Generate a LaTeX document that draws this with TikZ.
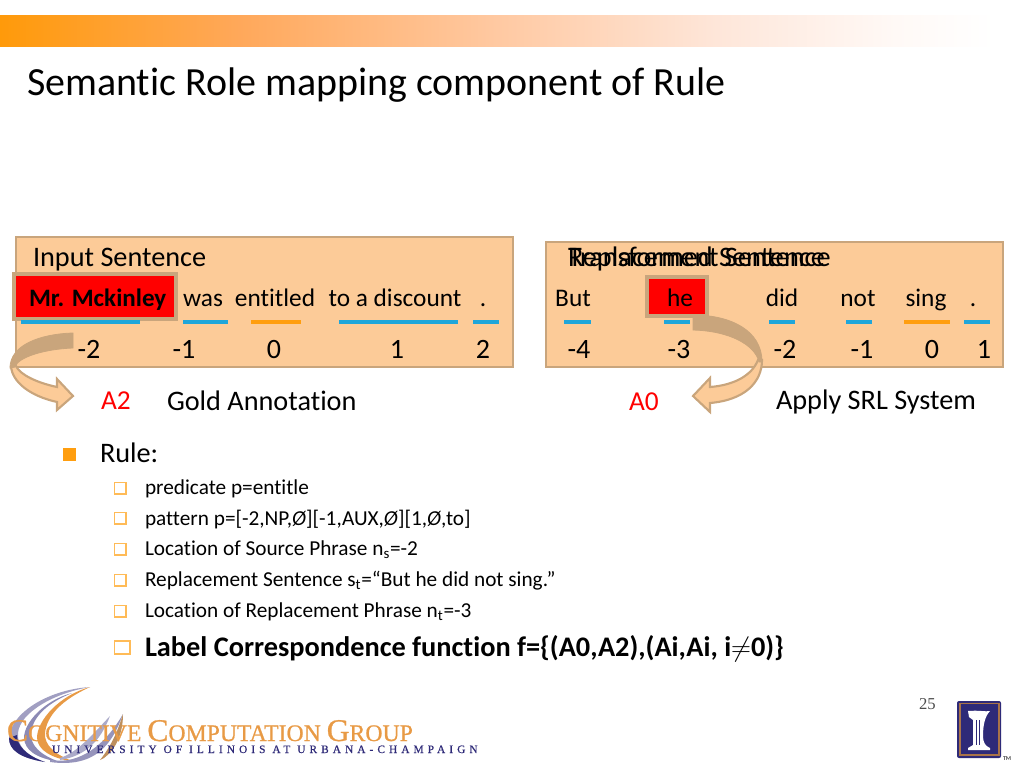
\documentclass[tikz,border=0pt]{standalone}
\usepackage{fontspec}
\setmainfont[Ligatures={NoCommon}]{Carlito}
\newfontfamily\logofont[FakeBold=0.8]{Liberation Serif}
\newfontfamily\logospaced[LetterSpace=36,FakeBold=0.5]{Liberation Serif}
\newfontfamily\pagefont{Liberation Serif}
\usetikzlibrary{shadings}
\definecolor{boxfill}{HTML}{FCCB98}
\definecolor{boxline}{HTML}{C9A57C}
\definecolor{uline}{HTML}{1FA6DA}
\definecolor{oline}{HTML}{FF9E0F}
\definecolor{navy}{HTML}{2E2A78}
\definecolor{logoorange}{HTML}{E89A45}
\definecolor{barA}{HTML}{FF9A0A}
\definecolor{barB}{HTML}{FFA85A}
\definecolor{barC}{HTML}{FFC9A2}
\definecolor{barD}{HTML}{FEE6D9}
\definecolor{barE}{HTML}{FFF9F6}
\pgfdeclarehorizontalshading{topbar}{100bp}{color(0bp)=(barA); color(25bp)=(barA); color(37bp)=(barB); color(50bp)=(barC); color(61bp)=(barD); color(70bp)=(barE); color(75bp)=(white); color(100bp)=(white)}
\newcommand{\fsz}[1]{\fontsize{#1}{#1}\selectfont}
\tikzset{
  x=0.75pt,y=-0.75pt,
  txt/.style={inner sep=0pt,outer sep=0pt,anchor=base west,text=black},
  ctr/.style={inner sep=0pt,outer sep=0pt,anchor=base,text=black},
  row/.style={ctr,font=\fsz{19}},
  num/.style={ctr,font=\fsz{21}},
  head/.style={txt,font=\fsz{21.2}},
  sub/.style={txt,font=\fsz{15.95}},
  bx/.style={fill=boxfill,draw=boxline,line width=2.2pt},
  redbox/.style={fill=red,draw=boxline,line width=2.4pt},
  bu/.style={line width=3pt,uline},
  ou/.style={line width=3pt,oline},
  hollow/.style={draw=oline!70!white,fill=white,line width=0.8pt},
  folddark/.style={fill=boxline,draw=boxline,line width=0.6pt},
  foldlight/.style={fill=boxfill,draw=boxline,line width=1.6pt,line join=miter},
  redlabel/.style={txt,text=red,font=\fsz{20.5}},
}
\begin{document}
\begin{tikzpicture}
\useasboundingbox (0,0) rectangle (1024,768);
% top bar and title
\shade[shading=topbar] (0,15) rectangle (995,46);
\node[txt,font=\fsz{29.95}] (title) at (27,95) {Semantic Role mapping component of Rule};
% left panel
\draw[bx] (16,237) rectangle (513,367);
\node[head] (inputhead) at (33,266) {Input Sentence};
\draw[redbox] (14,274) rectangle (176,319);
\node[txt,font=\fsz{18.8}\bfseries] (w1) at (29,306) {Mr. Mckinley};
\node[row] (w2) at (203,306) {was};
\node[row] (w3) at (275,306) {entitled};
\node[row] (w4) at (395,306) {to a discount};
\node[row] (w5) at (483,306) {.};
\draw[bu] (21,322) -- (140,322);
\draw[bu] (183,322) -- (228,322);
\draw[ou] (251,322) -- (301,322);
\draw[bu] (339,322) -- (458,322);
\draw[bu] (473,322) -- (499,322);
\node[num] (n1) at (89,358) {-2};
\node[num] (n2) at (184,358) {-1};
\node[num] (n3) at (274,358) {0};
\node[num] (n4) at (397,358) {1};
\node[num] (n5) at (483,358) {2};
% left arrow
\draw[foldlight] (11,366) .. controls (12,382) and (30,396) .. (57,402) -- (57,410) -- (73,396) -- (57,379) -- (57,387) .. controls (38,383) and (20,375) .. (16,366) -- cycle;
\draw[folddark] (73,333) .. controls (40,334) and (10,345) .. (10,368) -- (15,367) .. controls (18,357) and (45,349) .. (73,348) -- cycle;
\node[redlabel] (a2) at (101,409) {A2};
\node[head] (gold) at (167,410) {Gold Annotation};
% right panel
\draw[bx] (546,242) rectangle (1003,367);
\node[head] (rh1) at (568,266) {Replacement Sentence};
\node[head] (rh2) at (568,266) {Transformed Sentence};
\draw[redbox] (647,277) rectangle (707,316);
\node[row] (r1) at (573,306) {But};
\node[row] (r2) at (680,306) {he};
\node[row] (r3) at (782,306) {did};
\node[row] (r4) at (858,306) {not};
\node[row] (r5) at (926,306) {sing};
\node[row] (r6) at (973,306) {.};
\draw[bu] (564,322) -- (591,322);
\draw[bu] (664,322) -- (690,322);
\draw[bu] (769,322) -- (795,322);
\draw[bu] (846,322) -- (872,322);
\draw[ou] (904,322) -- (950,322);
\draw[bu] (964,322) -- (990,322);
\node[num] (m1) at (579,358) {-4};
\node[num] (m2) at (679,358) {-3};
\node[num] (m3) at (785,358) {-2};
\node[num] (m4) at (862,358) {-1};
\node[num] (m5) at (932,358) {0};
\node[num] (m6) at (984,358) {1};
% right arrow
\draw[foldlight] (762,360) .. controls (762,382) and (745,400) .. (710,403) -- (710,412) -- (693,396) -- (710,378) -- (710,387) .. controls (735,385) and (752,375) .. (758,360) -- cycle;
\draw[folddark] (693,315) .. controls (730,315) and (762,330) .. (762,362) -- (759,362) .. controls (755,345) and (730,331) .. (693,330) -- cycle;
\node[redlabel] (a0) at (629,410) {A0};
\node[head] (srl) at (776,409) {Apply SRL System};
% rule list
\fill[oline] (63,448) rectangle (76,461);
\node[head] (rule) at (100,462) {Rule:};
\draw[hollow] (114.5,482.5) rectangle (126,494);
\node[sub] (b1) at (145,494) {predicate p=entitle};
\draw[hollow] (114.5,512.5) rectangle (126,524);
\node[sub] (b2) at (145,525) {pattern p=[-2,NP,\textit{Ø}][-1,AUX,\textit{Ø}][1,\textit{Ø},to]};
\draw[hollow] (114.5,543.5) rectangle (126,555);
\node[sub] (b3) at (145,555.5) {Location of Source Phrase n\textsubscript{s}=-2};
\draw[hollow] (114.5,574.5) rectangle (126,586);
\node[sub] (b4) at (145,586) {Replacement Sentence s\textsubscript{t}=“But he did not sing.”};
\draw[hollow] (114.5,605.5) rectangle (126,617);
\node[sub] (b5) at (145,617) {Location of Replacement Phrase n\textsubscript{t}=-3};
\draw[hollow,line width=1pt] (114.5,641) rectangle (130,654);
\node[txt,font=\fsz{21.25}\bfseries] (b6) at (145,656) {Label Correspondence function f=\{(A0,A2),(Ai,Ai, i$\neq$0)\}};
% page number
\node[txt,font=\pagefont\fsz{12.5},text=black!70] (page) at (919,709) {25};
% logo swooshes
\fill[navy!45!white] (90,687) .. controls (45,690) and (10,715) .. (9,738) .. controls (9,750) and (20,758) .. (45,762) .. controls (25,755) and (17,745) .. (18,733) .. controls (20,712) and (55,693) .. (90,687) -- cycle;
\fill[navy!55!white] (72,693) .. controls (45,700) and (24,722) .. (24,738) .. controls (25,750) and (35,758) .. (60,762) .. controls (40,755) and (30,745) .. (31,733) .. controls (33,715) and (50,702) .. (72,693) -- cycle;
\fill[logoorange] (90,687) .. controls (60,695) and (37,720) .. (37,738) .. controls (38,750) and (50,758) .. (75,762) .. controls (55,755) and (44,745) .. (45,733) .. controls (47,715) and (62,700) .. (90,687) -- cycle;
\fill[navy] (9,738) .. controls (9,750) and (20,758) .. (45,762) .. controls (25,755) and (17,745) .. (17,735) -- cycle;
\fill[navy!50!white] (50,760) .. controls (80,765) and (105,745) .. (123,714) .. controls (112,745) and (95,768) .. (50,762) -- cycle;
\fill[navy!40!white] (60,758) .. controls (78,752) and (92,735) .. (110,716) .. controls (100,742) and (85,756) .. (60,760) -- cycle;
\fill[logoorange!60!gray] (100,760) .. controls (112,745) and (118,730) .. (123,714) .. controls (123,735) and (115,750) .. (104,758) -- cycle;
% logo text
\node[txt,font=\logofont,text=logoorange] (logotext) at (7,741)
  {\fsz{23.7}C\fsz{17.8}OGNITIVE \fsz{23.7}C\fsz{17.8}OMPUTATION \fsz{23.7}G\fsz{17.8}ROUP};
\node[txt,font=\logospaced\fsz{8.5},text=navy] (logosub) at (52,753) {UNIVERSITY OF ILLINOIS AT URBANA-CHAMPAIGN};
% Illinois logo
\fill[navy,rounded corners=1.5pt] (957,701) rectangle (1001,758);
\draw[draw=brown!85!navy,line width=0.9pt] (960,703.5) rectangle (999,755);
\fill[white] (968,711) .. controls (980,710) and (985,712) .. (990,711) .. controls (985,716) and (983,725) .. (983,736) .. controls (983,742) and (985,746) .. (990,748) -- (990,750) -- (968,750) -- (968,748) -- (973,745) -- (973,720) -- (969,717) -- cycle;
\draw[navy,line width=0.4pt] (976,720) -- (976,745) (979,720) -- (979,745);
\node[txt,font=\fsz{4.5}\bfseries,text=black!70] (tm) at (1003,760) {TM};
\end{tikzpicture}
\end{document}
